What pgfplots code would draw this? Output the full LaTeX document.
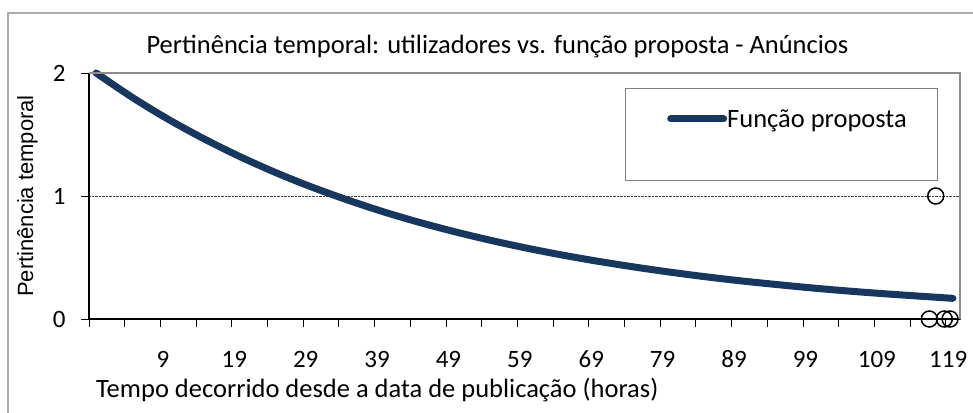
\documentclass[border=0pt]{standalone}
\usepackage{fontspec}
\setmainfont{Carlito}
\newfontfamily\arialfont{Liberation Sans}
\usepackage{pgfplots}
\pgfplotsset{compat=1.18}
\definecolor{navy}{HTML}{17375E}
\definecolor{framegray}{HTML}{ABABAB}
\definecolor{boxgray}{HTML}{8C8C8C}
\definecolor{leggray}{HTML}{7F7F7F}
\newcommand{\bigfont}{\fontsize{26.5}{30}\selectfont}
\newcommand{\tickfont}{\fontsize{25}{29}\selectfont}
\begin{document}
\begin{tikzpicture}[x=1pt,y=1pt]
\path[use as bounding box] (0,0) rectangle (973,412);
\fill[white] (0,0) rectangle (973,412);
\draw[framegray, line width=2pt] (7.5,-5) -- (7.5,399) -- (990,399);
\begin{axis}[
  at={(89pt,93pt)}, anchor=south west,
  scale only axis, width=871pt, height=246pt,
  xmin=-1, xmax=121, ymin=0, ymax=2,
  axis lines=left,
  axis line style={-, black, line width=1.3pt},
  xtick={9,19,...,119},
  minor xtick={-1,4,...,119},
  ytick={0,1,2},
  tick align=outside,
  major tick length=8pt, minor tick length=8pt,
  minor tick style={black, line width=0.8pt},
  major tick style={black, line width=0.8pt},
  ymajorgrids,
  grid style={densely dotted, black!75, line width=0.7pt},
  /pgf/number format/assume math mode=true,
  xticklabel={\tickfont\pgfmathprintnumber{\tick}},
  yticklabel={\tickfont\pgfmathprintnumber{\tick}},
  yticklabel style={xshift=-12pt, font=\tickfont},
  xticklabel style={anchor=base, yshift=-40pt, xshift=2.5pt, font=\tickfont},
  title={Pertinência temporal: utilizadores vs. função proposta - Anúncios},
  title style={at={(axis description cs:0.469,1.053)}, anchor=base, font=\bigfont},
  xlabel={Tempo decorrido desde a data de publicação (horas)},
  xlabel style={at={(axis description cs:0.331,-0.321)}, anchor=base, font=\bigfont},
  ylabel={Pertinência temporal},
  ylabel style={at={(axis description cs:-0.0706,0.5)}, anchor=center, font=\arialfont\fontsize{22}{26}\selectfont},
  legend style={at={(axis description cs:0.6636,0.813)}, anchor=west, draw=none, fill=none, inner sep=0pt,
    nodes={inner xsep=0pt, inner ysep=0pt, font=\bigfont}},
  legend image code/.code={\draw[#1, line width=7pt, line cap=round] (0pt,0pt) -- (53pt,0pt);},
  clip=false,
]
\draw[leggray, line width=1pt] (rel axis cs:0.6154,0.935) rectangle (rel axis cs:0.9736,0.565);
\addplot[navy, line width=7pt, smooth, line cap=round] coordinates {
(0,2.000) (5,1.804) (10,1.627) (15,1.468) (20,1.324) (25,1.194) (30,1.077)
(35,0.972) (40,0.876) (45,0.790) (50,0.713) (55,0.643) (60,0.580) (65,0.523)
(70,0.472) (75,0.426) (80,0.384) (85,0.346) (90,0.312) (95,0.282) (100,0.254)
(105,0.229) (110,0.207) (115,0.187) (120,0.168)
};
\addlegendentry{Função proposta}
\draw[boxgray, line width=2.5pt] (rel axis cs:0,1) -- (rel axis cs:1,1) -- (rel axis cs:1,0);
\addplot[only marks, mark=o, mark size=8pt, mark options={line width=1.5pt, black}, forget plot] coordinates {
(117.6,1) (116.7,0) (118.8,0) (119.6,0)
};
\end{axis}
\end{tikzpicture}
\end{document}
